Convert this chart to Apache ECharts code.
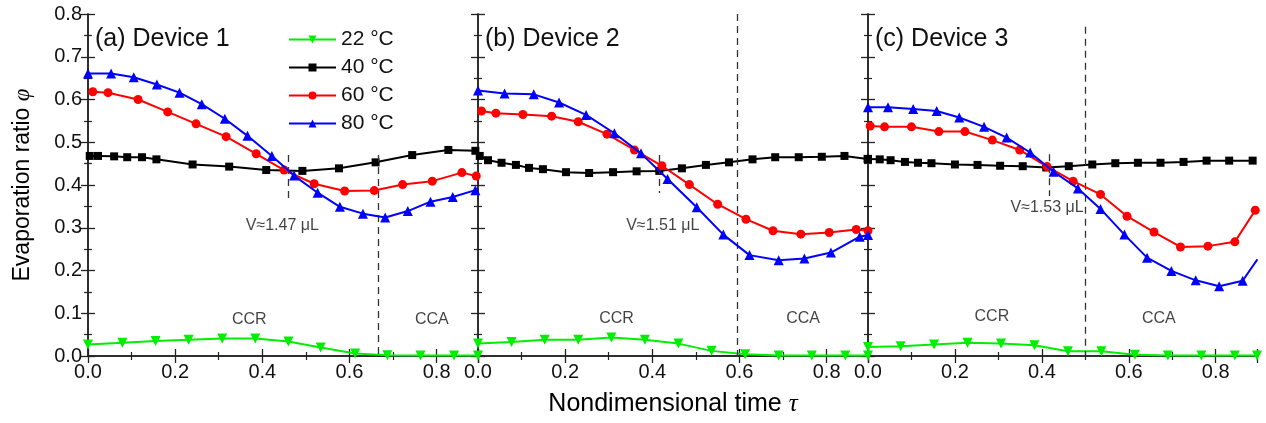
<!DOCTYPE html>
<html>
<head>
<meta charset="utf-8">
<script src="https://cdn.jsdelivr.net/npm/echarts@6/dist/echarts.min.js"></script>
<style>
  html, body { margin: 0; padding: 0; background: #fff; }
  #chart { width: 1266px; height: 423px; }
</style>
</head>
<body>
<div id="chart"></div>
<script>
// tau / phi pairs, one array per device and temperature
const d1_22 = [[0,0.027],[0.079,0.031],[0.155,0.035],[0.231,0.038],[0.308,0.041],[0.384,0.041],[0.460,0.034],[0.534,0.020],[0.613,0.006],[0.687,0.002],[0.763,0.001],[0.840,0.001],[0.895,0.001]];
const d1_40 = [[0.004,0.468],[0.023,0.468],[0.060,0.467],[0.090,0.465],[0.124,0.465],[0.157,0.460],[0.240,0.448],[0.324,0.443],[0.409,0.435],[0.492,0.433],[0.576,0.439],[0.660,0.453],[0.744,0.470],[0.827,0.482],[0.889,0.480]];
const d1_60 = [[0.011,0.618],[0.046,0.616],[0.115,0.600],[0.183,0.571],[0.248,0.543],[0.317,0.513],[0.386,0.473],[0.450,0.435],[0.519,0.403],[0.589,0.386],[0.657,0.387],[0.722,0.401],[0.790,0.409],[0.858,0.429],[0.891,0.421]];
const d1_80 = [[0,0.661],[0.053,0.661],[0.105,0.652],[0.158,0.635],[0.210,0.616],[0.261,0.589],[0.314,0.555],[0.366,0.515],[0.422,0.468],[0.473,0.422],[0.527,0.382],[0.578,0.349],[0.631,0.333],[0.682,0.324],[0.734,0.339],[0.786,0.361],[0.837,0.372],[0.889,0.388]];

const d2_22 = [[0,0.029],[0.077,0.033],[0.153,0.038],[0.230,0.038],[0.306,0.043],[0.383,0.038],[0.460,0.029],[0.536,0.012],[0.613,0.004],[0.690,0.001],[0.766,0.001],[0.843,0.001],[0.895,0.001]];
const d2_40 = [[0.004,0.468],[0.023,0.458],[0.054,0.452],[0.087,0.447],[0.117,0.440],[0.149,0.437],[0.202,0.430],[0.255,0.428],[0.310,0.430],[0.364,0.432],[0.416,0.433],[0.468,0.439],[0.523,0.447],[0.576,0.453],[0.630,0.460],[0.682,0.465],[0.736,0.465],[0.789,0.466],[0.841,0.468],[0.894,0.461]];
const d2_60 = [[0.008,0.573],[0.041,0.568],[0.103,0.565],[0.169,0.561],[0.230,0.548],[0.296,0.519],[0.359,0.482],[0.422,0.445],[0.485,0.401],[0.550,0.355],[0.615,0.320],[0.677,0.293],[0.741,0.285],[0.806,0.289],[0.868,0.296],[0.895,0.293]];
const d2_80 = [[0,0.621],[0.061,0.614],[0.128,0.612],[0.186,0.593],[0.248,0.564],[0.313,0.521],[0.374,0.474],[0.435,0.414],[0.502,0.348],[0.563,0.284],[0.623,0.236],[0.690,0.224],[0.749,0.228],[0.810,0.242],[0.876,0.279],[0.895,0.283]];

const d3_22 = [[0,0.021],[0.075,0.023],[0.152,0.027],[0.229,0.031],[0.306,0.029],[0.383,0.025],[0.460,0.011],[0.537,0.011],[0.614,0.003],[0.690,0.001],[0.767,0.001],[0.844,0.001],[0.895,0.001]];
const d3_40 = [[0,0.461],[0.027,0.460],[0.052,0.458],[0.085,0.454],[0.115,0.452],[0.146,0.451],[0.200,0.448],[0.252,0.447],[0.304,0.445],[0.356,0.444],[0.410,0.441],[0.462,0.444],[0.516,0.448],[0.569,0.451],[0.621,0.452],[0.673,0.452],[0.726,0.454],[0.779,0.457],[0.831,0.457],[0.885,0.457]];
const d3_60 = [[0.005,0.538],[0.038,0.536],[0.100,0.536],[0.163,0.525],[0.223,0.525],[0.286,0.505],[0.349,0.482],[0.412,0.443],[0.472,0.409],[0.535,0.378],[0.596,0.327],[0.658,0.290],[0.719,0.255],[0.782,0.257],[0.844,0.267],[0.891,0.341]];
const d3_80 = [[0,0.582],[0.046,0.582],[0.104,0.578],[0.158,0.573],[0.210,0.558],[0.267,0.536],[0.319,0.511],[0.373,0.476],[0.427,0.431],[0.483,0.392],[0.535,0.344],[0.590,0.284],[0.642,0.230],[0.698,0.199],[0.754,0.177],[0.808,0.163],[0.862,0.176],[0.896,0.226]];

const temps = ['22 °C', '40 °C', '60 °C', '80 °C'];
const panelTitles = ['(a) Device 1', '(b) Device 2', '(c) Device 3'];
const yTicks = [0, 0.1, 0.2, 0.3, 0.4, 0.5, 0.6, 0.7, 0.8];
const xMax = 0.895;

// dashed guide lines per device: [tau, phiFrom, phiTo]
const guides1 = [[0.460, 0.470, 0.365], [0.666, 0.470, 0]];
const guides2 = [[0.416, 0.470, 0.381], [0.595, 0.8, 0]];
const guides3 = [[0.418, 0.472, 0.374], [0.500, 0.770, 0]];

// text notes per device: [tau, phi, text]
const notes1 = [[0.446, 0.306, 'V≈1.47 μL'], [0.370, 0.085, 'CCR'], [0.789, 0.085, 'CCA']];
const notes2 = [[0.424, 0.306, 'V≈1.51 μL'], [0.318, 0.088, 'CCR'], [0.746, 0.088, 'CCA']];
const notes3 = [[0.412, 0.346, 'V≈1.53 μL'], [0.285, 0.092, 'CCR'], [0.669, 0.088, 'CCA']];

const FONT = 'Liberation Sans, Arial, sans-serif';
const panels = [
  { data: [d1_22, d1_40, d1_60, d1_80], guides: guides1, notes: notes1 },
  { data: [d2_22, d2_40, d2_60, d2_80], guides: guides2, notes: notes2 },
  { data: [d3_22, d3_40, d3_60, d3_80], guides: guides3, notes: notes3 },
];
const styles = [
  { color: '#00ee00', symbol: 'triangle', rotate: 180, size: 10 },
  { color: '#000000', symbol: 'rect', rotate: 0, size: 8 },
  { color: '#ff0000', symbol: 'circle', rotate: 0, size: 9 },
  { color: '#0000ff', symbol: 'triangle', rotate: 0, size: 10 },
];

const gridBoxes = [
  { left: 88, top: 14, width: 390, height: 342 },
  { left: 478, top: 14, width: 390, height: 342 },
  { left: 868, top: 14, width: 389, height: 342 },
];

const axisLine = { show: true, lineStyle: { color: '#222', width: 1.5 } };
const tick = { show: true, inside: true, length: 7, lineStyle: { color: '#222', width: 1.3 } };
const minor = { show: true, splitNumber: 2, length: 4, lineStyle: { color: '#222', width: 1.2 } };

const xAxes = [];
const yAxes = [];
[0, 1, 2].forEach((i) => {
  xAxes.push({
    gridIndex: i, type: 'value', position: 'bottom', min: 0, max: xMax, interval: 0.2,
    axisLine, axisTick: tick, minorTick: minor, splitLine: { show: false },
    axisLabel: {
      fontSize: 20, color: '#111', fontFamily: FONT, margin: 6,
      formatter: (v) => (Math.abs(v / 0.2 - Math.round(v / 0.2)) < 1e-6 ? v.toFixed(1) : ''),
    },
    name: i === 1 ? 'Nondimensional time {t|τ}' : '',
    nameLocation: 'middle', nameGap: 36,
    nameTextStyle: {
      fontSize: 25, color: '#000', fontFamily: FONT,
      rich: { t: { fontSize: 25, fontFamily: 'Liberation Serif', fontStyle: 'italic', color: '#000' } },
    },
  });
  yAxes.push({
    gridIndex: i, type: 'value', position: 'left', min: 0, max: 0.8, interval: 0.1,
    axisLine, axisTick: tick, minorTick: minor, splitLine: { show: false },
    axisLabel: {
      show: i === 0, fontSize: 20, color: '#111', fontFamily: FONT, margin: 6,
      formatter: (v) => (yTicks.some((t) => Math.abs(t - v) < 1e-6) ? v.toFixed(1) : ''),
    },
    name: i === 0 ? 'Evaporation ratio {p|φ}' : '',
    nameLocation: 'middle', nameGap: 54,
    nameTextStyle: {
      fontSize: 23, color: '#000', fontFamily: FONT,
      rich: { p: { fontSize: 23, fontFamily: 'Liberation Serif', fontStyle: 'italic', color: '#000' } },
    },
  });
});
// mirrored axes on top and right, ticks only
[0, 1, 2].forEach((i) => {
  xAxes.push({
    gridIndex: i, type: 'value', position: 'top', min: 0, max: xMax, interval: 0.2,
    axisLine, axisTick: tick, minorTick: minor, splitLine: { show: false }, axisLabel: { show: false },
  });
  yAxes.push({
    gridIndex: i, type: 'value', position: 'right', min: 0, max: 0.8, interval: 0.1,
    axisLine, axisTick: tick, minorTick: minor, splitLine: { show: false }, axisLabel: { show: false },
  });
});

const series = [];
panels.forEach((p, i) => {
  p.data.forEach((pts, k) => {
    const st = styles[k];
    const s = {
      type: 'line', name: temps[k], xAxisIndex: i, yAxisIndex: i, data: pts,
      symbol: st.symbol, symbolSize: st.size, symbolRotate: st.rotate, showSymbol: true,
      lineStyle: { color: st.color, width: 2 },
      itemStyle: { color: st.color },
      z: 3 + k,
    };
    if (k === 1) {
      s.markLine = {
        silent: true, symbol: 'none', label: { show: false },
        lineStyle: { color: '#333', type: [7, 5], width: 1.3 },
        data: p.guides.map((g) => [{ coord: [g[0], g[1]] }, { coord: [g[0], g[2]] }]),
      };
    }
    series.push(s);
  });
  series.push({
    type: 'scatter', name: 'notes' + i, xAxisIndex: i, yAxisIndex: i, silent: true,
    symbolSize: 2, itemStyle: { color: 'rgba(0,0,0,0)' },
    data: p.notes.map((n) => ({ value: [n[0], n[1]], name: n[2] })),
    label: {
      show: true, position: 'inside', formatter: (d) => d.name,
      color: '#111', fontSize: 16, fontFamily: FONT,
    },
    labelLayout: { hideOverlap: false },
    z: 10,
  });
});

const chart = echarts.init(document.getElementById('chart'));
chart.setOption({
  animation: false,
  backgroundColor: '#fff',
  grid: gridBoxes,
  xAxis: xAxes,
  yAxis: yAxes,
  legend: {
    data: temps, orient: 'vertical', left: 283, top: 24,
    itemWidth: 47, itemHeight: 10, itemGap: 7,
    textStyle: { fontSize: 21, color: '#111', fontFamily: FONT },
  },
  graphic: panelTitles.map((t, i) => ({
    type: 'text', left: gridBoxes[i].left + 7, top: 27,
    style: { text: t, fontSize: 25, fill: '#111', fontFamily: FONT },
  })),
  series,
});
</script>
</body>
</html>
